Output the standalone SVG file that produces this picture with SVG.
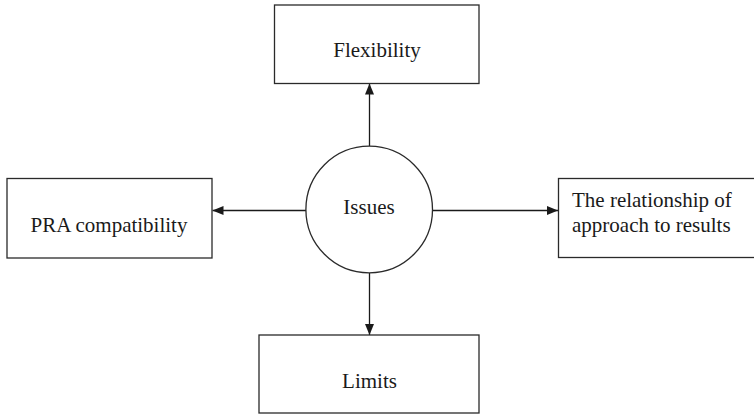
<svg xmlns="http://www.w3.org/2000/svg" width="754" height="415" viewBox="0 0 754 415">
  <defs>
    <marker id="arrow" markerUnits="userSpaceOnUse" markerWidth="11" markerHeight="10" refX="11" refY="5" orient="auto">
      <path d="M0,0.5 L11,5 L0,9.5 Z" fill="#1a1a1a"/>
    </marker>
    <style>
      .box { fill: #ffffff; stroke: #2a2a2a; stroke-width: 1.3; }
      .lbl { font-family: "Liberation Serif", "Times New Roman", serif; font-size: 21px; fill: #1a1a1a; }
      .mid { text-anchor: middle; }
      .conn { stroke: #1a1a1a; stroke-width: 1.3; fill: none; marker-end: url(#arrow); }
    </style>
  </defs>
  <rect width="754" height="415" fill="#ffffff"/>

  <g id="connectors">
    <line class="conn" x1="369.5" y1="146" x2="369.5" y2="83.5"/>
    <line class="conn" x1="369.5" y1="273" x2="369.5" y2="335"/>
    <line class="conn" x1="306" y1="210.5" x2="212.5" y2="210.5"/>
    <line class="conn" x1="432.5" y1="210.5" x2="558" y2="210.5"/>
  </g>

  <g id="issues">
    <circle class="box" cx="369.2" cy="209.5" r="63.3"/>
    <text class="lbl mid" x="369" y="214">Issues</text>
  </g>

  <g id="flexibility">
    <rect class="box" x="274.5" y="5" width="204.5" height="78.5"/>
    <text class="lbl mid" x="377" y="57">Flexibility</text>
  </g>

  <g id="pra-compatibility">
    <rect class="box" x="7" y="178.5" width="205" height="79.5"/>
    <text class="lbl mid" x="109" y="232">PRA compatibility</text>
  </g>

  <g id="relationship">
    <rect class="box" x="558.5" y="178.5" width="205" height="79"/>
    <text class="lbl" x="572" y="207">The relationship of</text>
    <text class="lbl" x="572" y="232">approach to results</text>
  </g>

  <g id="limits">
    <rect class="box" x="259" y="335" width="220" height="78"/>
    <text class="lbl mid" x="369.5" y="388">Limits</text>
  </g>
</svg>
